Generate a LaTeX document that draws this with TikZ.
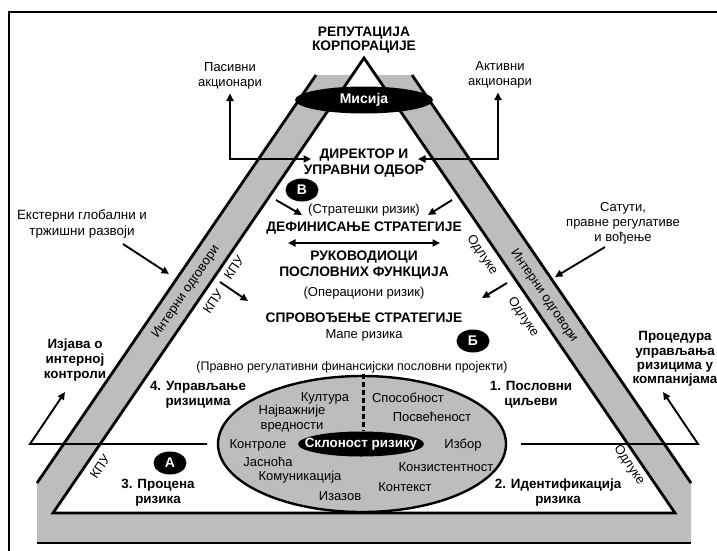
\documentclass[tikz,border=0pt]{standalone}
\usepackage{fontspec}
\setmainfont{Liberation Sans}
\usetikzlibrary{arrows.meta,shapes.geometric}
\definecolor{band}{gray}{0.74}
\tikzset{
  txt/.style={font=\fontsize{13}{15}\selectfont, align=center, inner sep=0pt},
  btxt/.style={font=\fontsize{13.4}{15}\selectfont\bfseries, align=center, inner sep=0pt},
  arr/.style={line width=1.9pt, -{Triangle[length=7.5pt,width=7pt]}},
  darr/.style={line width=1.9pt, {Triangle[length=7.5pt,width=7pt]}-{Triangle[length=7.5pt,width=7pt]}},
  heavy/.style={line width=2.8pt},
  blob/.style={ellipse, fill=black, text=white, font=\fontsize{14}{15}\selectfont\bfseries, inner sep=0pt, minimum width=33pt, minimum height=23pt},
  lrot/.style={txt, rotate=55.65},
  rrot/.style={txt, rotate=-55.65}
}
\begin{document}
\begin{tikzpicture}[x=1pt,y=-1pt]
\useasboundingbox (0,0) rectangle (717,551);
\clip (0,0) rectangle (717,551);
% frame
\draw[line width=1.9pt] (9,580) -- (9,12) -- (740,12);
% gray band
\fill[band] (316,75) -- (412,75) -- (691,483) -- (691,543) -- (37,543) -- (37,483) -- cycle;
\fill[white] (352.4,75) -- (375.6,75) -- (675,513) -- (53,513) -- cycle;
\draw[heavy] (316,75) -- (37,483);
\draw[heavy] (412,75) -- (691,483);
\draw[heavy] (37,543) -- (691,543);
\draw[heavy, line join=miter] (364,58) -- (675,513) -- (53,513) -- cycle;
% horizontal lines with arrows
\coordinate (hlA) at (207,444); \coordinate (hlB) at (30,444); \coordinate (hlC) at (65,392);
\coordinate (hrA) at (521,444); \coordinate (hrB) at (698,444); \coordinate (hrC) at (663,392);
\draw[arr, line join=miter] (hlA) -- (hlB) -- (hlC);
\draw[arr, line join=miter] (hrA) -- (hrB) -- (hrC);
% big ellipse
\node[draw, fill=band, line width=2.4pt, ellipse, minimum width=288pt, minimum height=136pt, inner sep=0pt] (big) at (362,444) {};
\node[ellipse, fill=black, minimum width=126pt, minimum height=25pt, inner sep=0pt] (skl) at (361,444) {};
\node[btxt, text=white] (sklt) at (skl) {Склоност ризику};
\coordinate (dashtop) at (363,374);
\draw[line width=3pt, dash pattern=on 5pt off 3pt] (dashtop) -- (skl.north -| dashtop);
% mission
\node[ellipse, fill=black, text=white, font=\fontsize{14}{15}\selectfont\bfseries, minimum width=138pt, minimum height=27pt, inner sep=0pt] (mis) at (364,100) {Мисија};
% top texts
\node[btxt, font=\fontsize{13.8}{14.5}\selectfont\bfseries] (rep) at (364,40) {РЕПУТАЦИЈА\\КОРПОРАЦИЈЕ};
\node[txt] (pas) at (230,76) {Пасивни\\акционари};
\node[txt] (akt) at (500,75) {Активни\\акционари};
\node[btxt, font=\fontsize{13.8}{16}\selectfont\bfseries] (dir) at (364,163) {ДИРЕКТОР И\\УПРАВНИ ОДБОР};
\coordinate (pasC) at (230,159); \coordinate (dirL) at (311,159);
\coordinate (aktC) at (498,159); \coordinate (dirR) at (418,159);
\draw[darr, line join=miter] ([yshift=-4pt]pas.south -| pasC) -- (pasC) -- (dirL);
\draw[darr, line join=miter] ([yshift=-4pt]akt.south -| aktC) -- (aktC) -- (dirR);
\node[blob] (bV) at (302,190) {В};
\node[txt] (strr) at (364,210) {(Стратешки ризик)};
\node[btxt, font=\fontsize{13.8}{15}\selectfont\bfseries] (def) at (364,228) {ДЕФИНИСАЊЕ СТРАТЕГИЈЕ};
\coordinate (bl1) at (276,200); \coordinate (bl2) at (302,215);
\coordinate (br1) at (452,200); \coordinate (br2) at (428,215);
\draw[arr] (bl1) -- (bl2);
\draw[arr] (br1) -- (br2);
\coordinate (dd1) at (288,243); \coordinate (dd2) at (440,243);
\draw[darr] (dd1) -- (dd2);
\node[btxt, font=\fontsize{13.8}{15.5}\selectfont\bfseries] (ruk) at (364,265) {РУКОВОДИОЦИ\\ПОСЛОВНИХ ФУНКЦИЈА};
\node[txt] (oper) at (364,293) {(Операциони ризик)};
\node[btxt, font=\fontsize{13.8}{15}\selectfont\bfseries] (spr) at (364,318) {СПРОВОЂЕЊЕ СТРАТЕГИЈЕ};
\node[txt] (mape) at (364,335) {Мапе ризика};
\node[blob] (bB) at (473,341) {Б};
\node[txt, font=\fontsize{12.4}{15}\selectfont] (prav) at (352,367) {(Правно регулативни финансијски пословни пројекти)};
\node[btxt] (upr) at (198,395) {4. Управљање\\ризицима};
\node[btxt] (posl) at (531,395) {1. Пословни\\циљеви};
\node[blob] (bA) at (170,463) {А};
\node[btxt] (proc3) at (158,493) {3. Процена\\ризика};
\node[btxt] (ident) at (558,493) {2. Идентификација\\ризика};
% side texts
\node[txt, font=\fontsize{13.4}{16}\selectfont] (ext) at (82,224) {Екстерни глобални и\\тржишни развоји};
\coordinate (ex1) at (123,244); \coordinate (ex2) at (169,274);
\draw[arr] (ex1) -- (ex2);
\node[txt] (sat) at (623,223) {Сатути,\\правне регулативе\\и вођење};
\coordinate (sa1) at (605,247); \coordinate (sa2) at (555,277);
\draw[arr] (sa1) -- (sa2);
\node[btxt] (izj) at (75,360) {Изјава о\\интерној\\контроли};
\node[btxt, font=\fontsize{13.4}{14.2}\selectfont\bfseries] (proc) at (675,359) {Процедура\\управљања\\ризицима у\\компанијама};
% band labels
\node[lrot] (io1) at (186,292) {Интерни одговори};
\node[rrot] (io2) at (544,296) {Интерни одговори};
\node[lrot] (kpu1) at (213,302) {КПУ};
\node[lrot] (kpu2) at (234,268) {КПУ};
\node[lrot] (kpu3) at (100,467) {КПУ};
\coordinate (ka1) at (220,282); \coordinate (ka2) at (248,301);
\draw[arr] (ka1) -- (ka2);
\node[rrot] (od1) at (482,255) {Одлуке};
\node[rrot] (od2) at (523,317) {Одлуке};
\node[rrot] (od3) at (629,465) {Одлуке};
\coordinate (oa1) at (507,283); \coordinate (oa2) at (482,298);
\draw[arr] (oa1) -- (oa2);
% words in ellipse
\node[txt] (w1) at (325,398) {Култура};
\node[txt] (w2) at (408,398) {Способност};
\node[txt] (w3) at (292,419) {Најважније\\вредности};
\node[txt] (w4) at (432,417) {Посвећеност};
\node[txt] (w5) at (258,445) {Контроле};
\node[txt] (w6) at (463,445) {Избор};
\node[txt] (w7) at (268,462) {Јасноћа};
\node[txt] (w8) at (446,467) {Конзистентност};
\node[txt] (w9) at (300,477) {Комуникација};
\node[txt] (w10) at (405,487) {Контекст};
\node[txt] (w11) at (340,496) {Изазов};
\end{tikzpicture}
\end{document}
